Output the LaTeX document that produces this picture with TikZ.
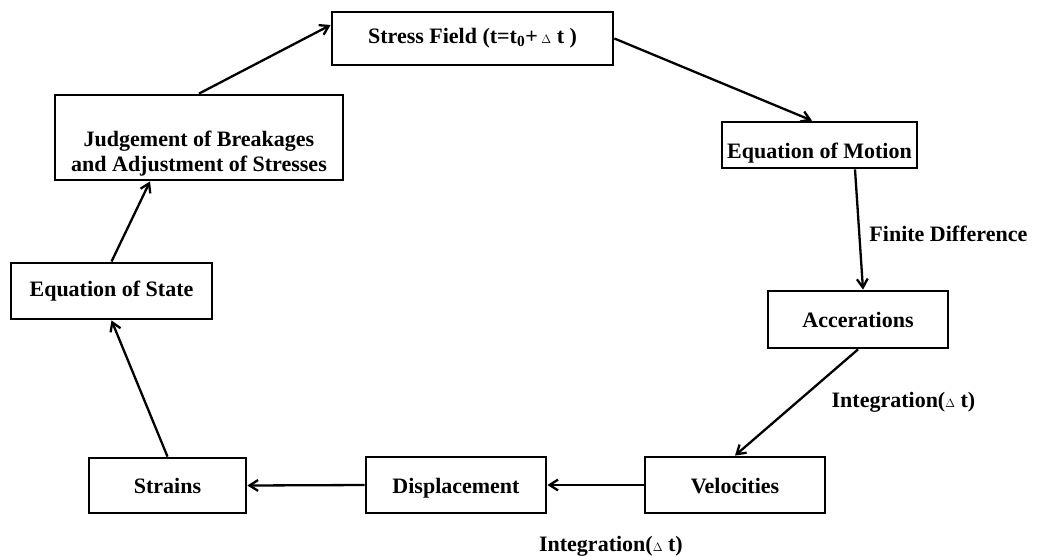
\documentclass[tikz,border=0pt]{standalone}
\usepackage{fontspec}
\setmainfont{Liberation Serif}
\usetikzlibrary{arrows.meta}

\newcommand{\smalldelta}{{\fontsize{12}{12}\selectfont$\Delta$}}

\begin{document}
\begin{tikzpicture}[x=1pt,y=-1pt,line width=2.3pt,>={Straight Barb[length=3mm,width=3.8mm]},
  box/.style={draw,line width=2.8pt,inner sep=0pt,align=center,
    text height=18pt,text depth=2pt,
    font=\bfseries\fontsize{22}{25}\selectfont},
  lbl/.style={font=\bfseries\fontsize{22}{25}\selectfont,inner sep=0pt}]
  \useasboundingbox (0,0) rectangle (1038,555);
  % --- boxes of the cycle ---
  \node[box,minimum width=281pt,minimum height=53pt,text height=12pt] (stress) at (472.5,38.5)
    {Stress Field (t=t\textsubscript{0}+\,\smalldelta\ t )};
  \node[box,minimum width=288pt,minimum height=85pt,text height=70pt]
    (judge) at (199,137.5) {Judgement of Breakages\\and Adjustment of Stresses};
  \node[box,minimum width=195pt,minimum height=46pt,text height=28pt]
    (motion) at (819.5,145) {Equation of Motion};
  \node[box,minimum width=180pt,minimum height=57pt] (accel) at (858,319.5)
    {Accerations};
  \node[box,minimum width=201pt,minimum height=56pt,text height=12pt] (state) at (111.5,291)
    {Equation of State};
  \node[box,minimum width=157pt,minimum height=55pt] (strains) at (167.5,485.5)
    {Strains};
  \node[box,minimum width=180pt,minimum height=56pt] (disp) at (456,485)
    {Displacement};
  \node[box,minimum width=180pt,minimum height=56pt] (vel) at (735,485)
    {Velocities};
  % --- arrows ---
  \draw[->] (judge.north) -- ([yshift=13.5pt]stress.west);
  \draw[->] (stress.east) -- ([xshift=-7.5pt]motion.north);
  \draw[->] ([xshift=35.5pt]motion.south) -- ([xshift=5pt]accel.north)
    node[lbl,pos=0.54,right=9pt]{Finite Difference};
  \draw[->] (accel.south) -- (vel.north)
    node[lbl,midway,right=34pt]{Integration(\smalldelta\ t)};
  \draw[->] (vel.west) -- (disp.east)
    node[lbl,pos=0.34,below=50pt]{Integration(\smalldelta\ t)};
  \draw[->] (disp.west) -- (strains.east);
  \draw[->] (strains.north) -- (state.south);
  \draw[->] (state.north) -- ([xshift=-49pt]judge.south);
\end{tikzpicture}
\end{document}
